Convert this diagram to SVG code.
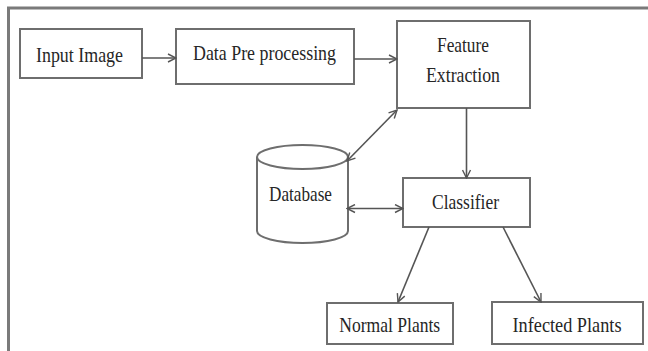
<svg xmlns="http://www.w3.org/2000/svg" width="648" height="351" viewBox="0 0 648 351">
<style>
.box{fill:#ffffff;stroke:#6e6e6e;stroke-width:2}
.lbl{font-family:"Liberation Serif","Times New Roman",serif;font-size:22px;fill:#262626;text-anchor:middle}
.con{stroke:#555;stroke-width:1.6;fill:none}
</style>
<defs>
<marker id="ah" viewBox="0 0 10 10" refX="9" refY="5" markerWidth="10" markerHeight="10" markerUnits="userSpaceOnUse" orient="auto-start-reverse">
<path d="M1,1 L9,5 L1,9" fill="none" stroke="#555" stroke-width="1.4"/>
</marker>
</defs>
<rect width="648" height="351" fill="#ffffff"/>
<path d="M8.5,351 L8.5,8 L648,8" fill="none" stroke="#7a7a7a" stroke-width="3"/>
<g id="input-image">
<rect class="box" x="20" y="29" width="122" height="49"/>
<text class="lbl" x="79.5" y="62" textLength="87" lengthAdjust="spacingAndGlyphs">Input Image</text>
</g>
<g id="data-pre-processing">
<rect class="box" x="176" y="29" width="178" height="55"/>
<text class="lbl" x="264.5" y="59.5" textLength="143" lengthAdjust="spacingAndGlyphs">Data Pre processing</text>
</g>
<g id="feature-extraction">
<rect class="box" x="397" y="21" width="133" height="87"/>
<text class="lbl" x="463" y="51.5" textLength="52" lengthAdjust="spacingAndGlyphs">Feature</text>
<text class="lbl" x="463" y="81.5" textLength="74" lengthAdjust="spacingAndGlyphs">Extraction</text>
</g>
<g id="database">
<path class="box" d="M257,157 L257,231 A45.5,12 0 0 0 348,231 L348,157"/>
<ellipse class="box" cx="302.5" cy="157" rx="45.5" ry="12"/>
<text class="lbl" x="300.5" y="200.5" textLength="63" lengthAdjust="spacingAndGlyphs">Database</text>
</g>
<g id="classifier">
<rect class="box" x="403" y="178" width="127" height="49"/>
<text class="lbl" x="465.5" y="209" textLength="67" lengthAdjust="spacingAndGlyphs">Classifier</text>
</g>
<g id="normal-plants">
<rect class="box" x="327" y="303" width="126" height="41"/>
<text class="lbl" x="389.7" y="331.5" textLength="101" lengthAdjust="spacingAndGlyphs">Normal Plants</text>
</g>
<g id="infected-plants">
<rect class="box" x="492" y="302" width="151" height="42"/>
<text class="lbl" x="567" y="331.5" textLength="109" lengthAdjust="spacingAndGlyphs">Infected Plants</text>
</g>
<g id="connectors">
<line class="con" x1="142" y1="58" x2="176" y2="58" marker-end="url(#ah)"/>
<line class="con" x1="354" y1="59" x2="397" y2="59" marker-end="url(#ah)"/>
<line class="con" x1="347" y1="161" x2="397" y2="110" marker-start="url(#ah)" marker-end="url(#ah)"/>
<line class="con" x1="466.5" y1="108" x2="466.5" y2="178" marker-end="url(#ah)"/>
<line class="con" x1="347" y1="208.5" x2="403" y2="208.5" marker-start="url(#ah)" marker-end="url(#ah)"/>
<line class="con" x1="429" y1="227" x2="398" y2="302" marker-end="url(#ah)"/>
<line class="con" x1="503" y1="227" x2="541" y2="302" marker-end="url(#ah)"/>
</g>
</svg>
